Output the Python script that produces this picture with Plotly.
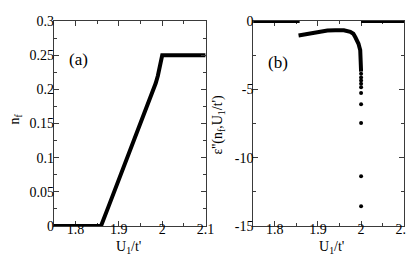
import plotly.graph_objects as go

# ---- data (a): n_f vs U1/t'
u_a = [1.75, 1.859, 1.876, 1.893, 1.91, 1.926, 1.945, 1.962, 1.972, 1.979, 1.985, 1.99, 1.994, 1.997, 1.999, 2.0, 2.1]
n_a = [0.0, 0.0, 0.028, 0.056, 0.085, 0.113, 0.142, 0.17, 0.186, 0.198, 0.209, 0.22, 0.23, 0.239, 0.246, 0.25, 0.25]

# ---- data (b): eps'' vs U1/t'
u_b_zero_left = [1.75, 1.857]
e_b_zero_left = [0.0, 0.0]
u_b_curve = [1.855, 1.87, 1.885, 1.9, 1.922, 1.94, 1.96, 1.975, 1.982, 1.987, 1.991, 1.994, 1.996, 1.998, 1.999, 2.0]
e_b_curve = [-1.05, -0.96, -0.9, -0.8, -0.69, -0.67, -0.67, -0.78, -0.92, -1.2, -1.42, -1.66, -1.9, -2.12, -2.9, -3.7]
u_b_dots = [2.0, 2.0, 2.0, 2.0, 2.0, 2.0, 2.0, 2.0, 2.0, 2.0]
e_b_dots = [-3.85, -4.13, -4.35, -4.58, -4.84, -5.27, -6.08, -7.46, -11.36, -13.55]
u_b_zero_right = [2.0, 2.1]
e_b_zero_right = [0.0, 0.0]

x_ticks = [1.8, 1.9, 2.0, 2.1]
x_ticktext = ["1.8", "1.9", "2", "2.1"]
ya_ticks = [0, 0.05, 0.1, 0.15, 0.2, 0.25, 0.3]
ya_ticktext = ["0", "0.05", "0.1", "0.15", "0.2", "0.25", "0.3"]
yb_ticks = [0, -5, -10, -15]
yb_ticktext = ["0", "-5", "-10", "-15"]

x_title = "U<sub>1</sub>/t'"
ya_title = "n<sub>f</sub>"
yb_title = "ε''(n<sub>f</sub>,U<sub>1</sub>/t')"

W, H = 415, 259
FONT = "Liberation Serif"
AX = "#3a3a3a"

fig = go.Figure()
line = dict(color="black", width=4)
fig.add_trace(go.Scatter(x=u_a, y=n_a, mode="lines", line=line, xaxis="x", yaxis="y", showlegend=False))
fig.add_trace(go.Scatter(x=u_b_zero_left, y=e_b_zero_left, mode="lines", line=line, xaxis="x2", yaxis="y2", showlegend=False))
fig.add_trace(go.Scatter(x=u_b_curve, y=e_b_curve, mode="lines", line=line, xaxis="x2", yaxis="y2", showlegend=False))
fig.add_trace(go.Scatter(x=u_b_dots, y=e_b_dots, mode="markers", marker=dict(color="black", size=4), xaxis="x2", yaxis="y2", showlegend=False, cliponaxis=False))
fig.add_trace(go.Scatter(x=u_b_zero_right, y=e_b_zero_right, mode="lines", line=line, xaxis="x2", yaxis="y2", showlegend=False))

edge_shapes = []
for xs, ys, xr, yr in [(u_a[:2], n_a[:2], "x", "y"),
                       (u_b_zero_left, e_b_zero_left, "x2", "y2"),
                       (u_b_zero_right, e_b_zero_right, "x2", "y2")]:
    edge_shapes.append(dict(type="line", xref=xr, yref=yr, x0=xs[0], x1=xs[1], y0=ys[0], y1=ys[1],
                            line=dict(color="black", width=4), layer="above"))

def px_x(a, b):
    return [a / W, b / W]

def px_y(top, bottom):
    return [1 - bottom / H, 1 - top / H]

common = dict(showline=True, linecolor=AX, linewidth=1, mirror="allticks", ticks="inside",
              ticklen=5, tickcolor=AX, tickwidth=1, showgrid=False, zeroline=False,
              ticklabeloverflow="allow",
              tickfont=dict(family=FONT, size=14, color="black"))

minor_x = dict(dtick=0.05, ticks="inside", ticklen=3, tickcolor=AX, showgrid=False)

def text_at(txt, px, py, angle=0, size=14):
    return dict(text=txt, x=px / W, y=1 - py / H, xref="paper", yref="paper",
                xanchor="center", yanchor="middle", textangle=angle, showarrow=False,
                font=dict(family=FONT, size=size, color="black"))

fig.update_layout(
    width=W, height=H, margin=dict(l=0, r=0, t=0, b=0),
    paper_bgcolor="white", plot_bgcolor="white",
    font=dict(family=FONT, size=14, color="black"),
    shapes=edge_shapes,
    xaxis=dict(domain=px_x(46.7, 202), range=[1.75, 2.1], tickvals=x_ticks, ticktext=x_ticktext,
               minor=minor_x, anchor="y", ticklabelstandoff=-10, **common),
    yaxis=dict(domain=px_y(6.5, 224), range=[0, 0.3000001], tickvals=ya_ticks, ticktext=ya_ticktext,
               minor=dict(dtick=0.025, ticks="inside", ticklen=3, tickcolor=AX, showgrid=False),
               anchor="x", ticklabelstandoff=-4, **common),
    xaxis2=dict(domain=px_x(250.7, 405), range=[1.75, 2.1], tickvals=x_ticks, ticktext=x_ticktext,
                minor=minor_x, anchor="y2", ticklabelstandoff=-10, **common),
    yaxis2=dict(domain=px_y(6.5, 224), range=[-15, 0], tickvals=yb_ticks, ticktext=yb_ticktext,
                minor=dict(dtick=2.5, ticks="inside", ticklen=3, tickcolor=AX, showgrid=False),
                anchor="x2", ticklabelstandoff=-4, **common),
    annotations=[
        text_at("(a)", 72, 47, size=17),
        text_at("(b)", 276, 50, size=17),
        text_at(x_title, 123, 247),
        text_at(x_title, 331, 247),
        text_at(ya_title, 8, 110, angle=-90),
        text_at(yb_title, 215, 116, angle=-90),
    ],
)

fig.write_html("out.html")
